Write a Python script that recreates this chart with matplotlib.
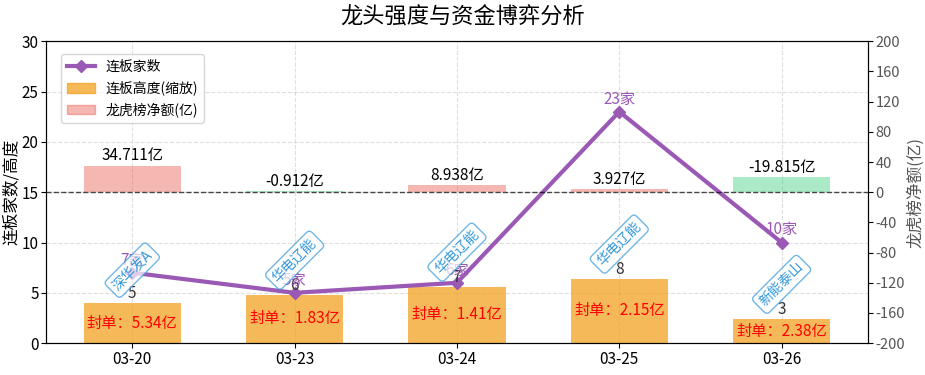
import matplotlib
matplotlib.use("Agg")
import matplotlib.pyplot as plt
import numpy as np
from matplotlib.lines import Line2D
from matplotlib.patches import Patch

plt.rcParams["font.family"] = ["Noto Sans CJK SC", "DejaVu Sans"]
plt.rcParams["axes.unicode_minus"] = False

dates = ["03-20", "03-23", "03-24", "03-25", "03-26"]
board_count = [7, 5, 6, 23, 10]
board_height = [5, 6, 7, 8, 3]
height_scale = 0.8
net_amount = [34.711, -0.912, 8.938, 3.927, -19.815]
seal_amount = [5.34, 1.83, 1.41, 2.15, 2.38]
leader_names = ["深华发A", "华电辽能", "华电辽能", "华电辽能", "新能泰山"]

x = np.arange(len(dates))
scaled = [h * height_scale for h in board_height]

fig, ax1 = plt.subplots(figsize=(9.25, 3.75), dpi=100)
fig.subplots_adjust(left=0.05, right=0.938, top=0.89, bottom=0.085)
ax2 = ax1.twinx()

# 连板高度（缩放）
ax1.bar(x, scaled, width=0.6, color="#f39c12", alpha=0.7, zorder=2)
for i, h in enumerate(scaled):
    ax1.text(x[i], h + 0.1, str(board_height[i]), ha="center", va="bottom",
             fontsize=11, color="#333333", zorder=5)
    ax1.text(x[i], h / 2, f"封单：{seal_amount[i]:.2f}亿", ha="center", va="center",
             fontsize=11, color="red", zorder=5)
    ax1.text(x[i], h + 1.0, leader_names[i], ha="center", va="bottom", rotation=45,
             fontsize=10, color="#3498db", zorder=6,
             bbox=dict(boxstyle="round,pad=0.3", fc="white", ec="#3498db", alpha=0.7))

# 连板家数
ax1.plot(x, board_count, color="#9b59b6", linewidth=3, marker="D", markersize=6, zorder=4)
for i, v in enumerate(board_count):
    ax1.text(x[i], v + 0.4, f"{v}家", ha="center", va="bottom", fontsize=11,
             color="#9b59b6", zorder=5)

ax1.set_ylim(0, 30)
ax1.set_yticks(range(0, 31, 5))
ax1.set_xticks(x, dates)
ax1.tick_params(axis="both", labelsize=11, pad=2)
ax1.set_ylabel("连板家数/高度", fontsize=12, labelpad=1)
ax1.grid(True, linestyle="--", alpha=0.4, zorder=0)
ax1.set_axisbelow(True)

# 龙虎榜净额
colors = ["#e74c3c" if v > 0 else "#2ecc71" for v in net_amount]
ax2.bar(x, [abs(v) for v in net_amount], width=0.6, color=colors, alpha=0.4)
for i, v in enumerate(net_amount):
    ax2.text(x[i], abs(v) + 2, f"{v:.3f}亿", ha="center", va="bottom", fontsize=11,
             color="black")
ax2.axhline(0, color="black", linestyle="--", linewidth=1, alpha=0.7)
ax2.set_ylim(-200, 200)
ax2.set_yticks(range(-200, 201, 40))
ax2.tick_params(axis="y", labelsize=10.5, labelcolor="#555555", pad=2)
ax2.set_ylabel("龙虎榜净额(亿)", fontsize=12, color="#555555", labelpad=1)
ax2.set_xlim(ax1.get_xlim())

handles = [
    Line2D([0], [0], color="#9b59b6", linewidth=3, marker="D", markersize=6),
    Patch(color="#f39c12", alpha=0.7),
    Patch(color="#e74c3c", alpha=0.4),
]
labels = ["连板家数", "连板高度(缩放)", "龙虎榜净额(亿)"]
ax2.legend(handles, labels, loc="upper left", fontsize=10, bbox_to_anchor=(0.01, 0.98))

fig.suptitle("龙头强度与资金博弈分析", fontsize=16, y=0.985)
fig.savefig("out.png", dpi=100)
